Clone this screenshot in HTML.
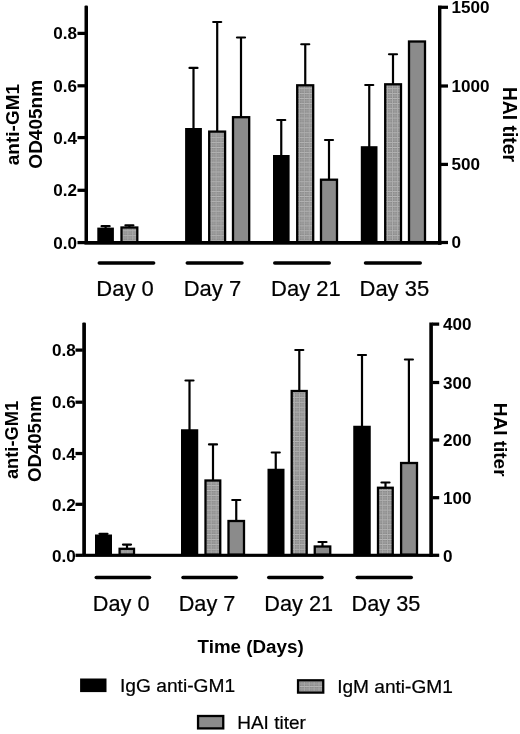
<!DOCTYPE html>
<html lang="en"><head><meta charset="utf-8"><title>anti-GM1 and HAI titer</title>
<style>
html,body{margin:0;padding:0;background:#fff;}
body{width:520px;height:734px;overflow:hidden;}
svg{display:block;filter:blur(0.35px);}
svg text{font-family:"Liberation Sans",Arial,Helvetica,sans-serif;fill:#000;}
</style></head><body>
<svg width="520" height="734" viewBox="0 0 520 734">
<defs>
<pattern id="hatch" width="4.9" height="4.9" patternUnits="userSpaceOnUse">
<rect width="4.9" height="4.9" fill="#888888"/>
<rect y="2.45" width="4.9" height="0.9" fill="#a8a8a8"/>
<rect x="2.45" width="0.9" height="4.9" fill="#a2a2a2"/>
<rect width="4.9" height="0.9" fill="#b8b8b8"/>
<rect width="0.9" height="4.9" fill="#aeaeae"/>
</pattern>
</defs>
<rect width="520" height="734" fill="#fff"/>
<line x1="105.60" y1="226.20" x2="105.60" y2="228.60" stroke="#000" stroke-width="2.2" stroke-linecap="butt"/>
<line x1="101.60" y1="226.20" x2="109.60" y2="226.20" stroke="#000" stroke-width="2.2" stroke-linecap="round"/>
<rect x="97.30" y="227.60" width="16.60" height="15.00" fill="#000" />
<line x1="129.40" y1="225.30" x2="129.40" y2="227.50" stroke="#000" stroke-width="2.2" stroke-linecap="butt"/>
<line x1="125.40" y1="225.30" x2="133.40" y2="225.30" stroke="#000" stroke-width="2.2" stroke-linecap="round"/>
<rect x="121.50" y="227.50" width="15.80" height="14.60" fill="url(#hatch)" stroke="#000" stroke-width="2.3"/>
<line x1="193.50" y1="67.90" x2="193.50" y2="129.00" stroke="#000" stroke-width="2.2" stroke-linecap="butt"/>
<line x1="189.50" y1="67.90" x2="197.50" y2="67.90" stroke="#000" stroke-width="2.2" stroke-linecap="round"/>
<rect x="185.10" y="128.00" width="16.80" height="114.60" fill="#000" />
<line x1="217.20" y1="22.00" x2="217.20" y2="131.60" stroke="#000" stroke-width="2.2" stroke-linecap="butt"/>
<line x1="213.20" y1="22.00" x2="221.20" y2="22.00" stroke="#000" stroke-width="2.2" stroke-linecap="round"/>
<rect x="209.20" y="131.60" width="15.90" height="110.50" fill="url(#hatch)" stroke="#000" stroke-width="2.3"/>
<line x1="241.00" y1="37.50" x2="241.00" y2="117.20" stroke="#000" stroke-width="2.2" stroke-linecap="butt"/>
<line x1="237.00" y1="37.50" x2="245.00" y2="37.50" stroke="#000" stroke-width="2.2" stroke-linecap="round"/>
<rect x="233.00" y="117.20" width="16.20" height="124.90" fill="#8b8b8b" stroke="#000" stroke-width="2.3"/>
<line x1="281.25" y1="120.00" x2="281.25" y2="156.00" stroke="#000" stroke-width="2.2" stroke-linecap="butt"/>
<line x1="277.25" y1="120.00" x2="285.25" y2="120.00" stroke="#000" stroke-width="2.2" stroke-linecap="round"/>
<rect x="273.00" y="155.00" width="16.60" height="87.60" fill="#000" />
<line x1="305.25" y1="44.25" x2="305.25" y2="85.30" stroke="#000" stroke-width="2.2" stroke-linecap="butt"/>
<line x1="301.25" y1="44.25" x2="309.25" y2="44.25" stroke="#000" stroke-width="2.2" stroke-linecap="round"/>
<rect x="297.20" y="85.30" width="16.00" height="156.80" fill="url(#hatch)" stroke="#000" stroke-width="2.3"/>
<line x1="329.00" y1="140.00" x2="329.00" y2="179.70" stroke="#000" stroke-width="2.2" stroke-linecap="butt"/>
<line x1="325.00" y1="140.00" x2="333.00" y2="140.00" stroke="#000" stroke-width="2.2" stroke-linecap="round"/>
<rect x="321.00" y="179.70" width="16.00" height="62.40" fill="#8b8b8b" stroke="#000" stroke-width="2.3"/>
<line x1="369.25" y1="85.00" x2="369.25" y2="147.20" stroke="#000" stroke-width="2.2" stroke-linecap="butt"/>
<line x1="365.25" y1="85.00" x2="373.25" y2="85.00" stroke="#000" stroke-width="2.2" stroke-linecap="round"/>
<rect x="360.80" y="146.20" width="16.70" height="96.40" fill="#000" />
<line x1="393.00" y1="54.25" x2="393.00" y2="84.30" stroke="#000" stroke-width="2.2" stroke-linecap="butt"/>
<line x1="389.00" y1="54.25" x2="397.00" y2="54.25" stroke="#000" stroke-width="2.2" stroke-linecap="round"/>
<rect x="385.20" y="84.30" width="15.80" height="157.80" fill="url(#hatch)" stroke="#000" stroke-width="2.3"/>
<rect x="409.00" y="41.50" width="16.00" height="200.60" fill="#8b8b8b" stroke="#000" stroke-width="2.3"/>
<rect x="84.50" y="5.50" width="3.50" height="238.20" fill="#000" rx="1.1"/>
<rect x="438.00" y="5.50" width="3.40" height="239.20" fill="#000" />
<rect x="84.50" y="241.00" width="356.90" height="3.70" fill="#000" />
<rect x="77.50" y="240.97" width="7.50" height="3.25" fill="#000" />
<text x="77.00" y="248.70" font-size="17.1" font-weight="bold" text-anchor="end">0.0</text>
<rect x="77.50" y="188.68" width="7.50" height="3.25" fill="#000" />
<text x="77.00" y="196.40" font-size="17.1" font-weight="bold" text-anchor="end">0.2</text>
<rect x="77.50" y="135.97" width="7.50" height="3.25" fill="#000" />
<text x="77.00" y="143.70" font-size="17.1" font-weight="bold" text-anchor="end">0.4</text>
<rect x="77.50" y="84.17" width="7.50" height="3.25" fill="#000" />
<text x="77.00" y="91.60" font-size="17.1" font-weight="bold" text-anchor="end">0.6</text>
<rect x="77.50" y="31.77" width="7.50" height="3.25" fill="#000" />
<text x="77.00" y="38.95" font-size="17.1" font-weight="bold" text-anchor="end">0.8</text>
<rect x="440.90" y="5.67" width="7.10" height="3.25" fill="#000" />
<text x="451.60" y="12.85" font-size="17.1" font-weight="bold" text-anchor="start">1500</text>
<rect x="440.90" y="84.38" width="7.10" height="3.25" fill="#000" />
<text x="451.60" y="91.55" font-size="17.1" font-weight="bold" text-anchor="start">1000</text>
<rect x="440.90" y="162.78" width="7.10" height="3.25" fill="#000" />
<text x="451.60" y="169.95" font-size="17.1" font-weight="bold" text-anchor="start">500</text>
<rect x="440.90" y="240.88" width="7.10" height="3.25" fill="#000" />
<text x="451.60" y="248.05" font-size="17.1" font-weight="bold" text-anchor="start">0</text>
<line x1="99.25" y1="263.00" x2="153.65" y2="263.00" stroke="#000" stroke-width="3.5" stroke-linecap="round"/>
<text x="96.30" y="296.00" font-size="22.0" font-weight="normal" text-anchor="start" stroke="#000" stroke-width="0.22">Day 0</text>
<line x1="187.25" y1="263.00" x2="242.00" y2="263.00" stroke="#000" stroke-width="3.5" stroke-linecap="round"/>
<text x="183.70" y="296.00" font-size="22.0" font-weight="normal" text-anchor="start" stroke="#000" stroke-width="0.22">Day 7</text>
<line x1="274.75" y1="263.00" x2="329.25" y2="263.00" stroke="#000" stroke-width="3.5" stroke-linecap="round"/>
<text x="271.10" y="296.00" font-size="22.0" font-weight="normal" text-anchor="start" stroke="#000" stroke-width="0.22">Day 21</text>
<line x1="365.50" y1="263.00" x2="420.25" y2="263.00" stroke="#000" stroke-width="3.5" stroke-linecap="round"/>
<text x="359.50" y="296.00" font-size="22.0" font-weight="normal" text-anchor="start" stroke="#000" stroke-width="0.22">Day 35</text>
<text x="18.80" y="124.60" font-size="19" font-weight="bold" text-anchor="middle" transform="rotate(-90 18.80 124.60)">anti-GM1</text>
<text x="41.90" y="124.30" font-size="19" font-weight="bold" text-anchor="middle" transform="rotate(-90 41.90 124.30)">OD405nm</text>
<text x="503.00" y="124.40" font-size="19.3" font-weight="bold" text-anchor="middle" transform="rotate(90 503.00 124.40)">HAI titer</text>
<line x1="103.50" y1="533.80" x2="103.50" y2="535.50" stroke="#000" stroke-width="2.2" stroke-linecap="butt"/>
<line x1="99.50" y1="533.80" x2="107.50" y2="533.80" stroke="#000" stroke-width="2.2" stroke-linecap="round"/>
<rect x="95.00" y="534.50" width="17.00" height="20.70" fill="#000" />
<line x1="127.00" y1="544.60" x2="127.00" y2="548.80" stroke="#000" stroke-width="2.2" stroke-linecap="butt"/>
<line x1="123.00" y1="544.60" x2="131.00" y2="544.60" stroke="#000" stroke-width="2.2" stroke-linecap="round"/>
<rect x="119.60" y="548.80" width="14.40" height="5.90" fill="url(#hatch)" stroke="#000" stroke-width="2.3"/>
<line x1="189.50" y1="380.50" x2="189.50" y2="430.25" stroke="#000" stroke-width="2.2" stroke-linecap="butt"/>
<line x1="185.50" y1="380.50" x2="193.50" y2="380.50" stroke="#000" stroke-width="2.2" stroke-linecap="round"/>
<rect x="181.00" y="429.25" width="17.25" height="125.95" fill="#000" />
<line x1="213.00" y1="444.40" x2="213.00" y2="480.50" stroke="#000" stroke-width="2.2" stroke-linecap="butt"/>
<line x1="209.00" y1="444.40" x2="217.00" y2="444.40" stroke="#000" stroke-width="2.2" stroke-linecap="round"/>
<rect x="205.50" y="480.50" width="14.75" height="74.20" fill="url(#hatch)" stroke="#000" stroke-width="2.3"/>
<line x1="236.25" y1="500.00" x2="236.25" y2="521.00" stroke="#000" stroke-width="2.2" stroke-linecap="butt"/>
<line x1="232.25" y1="500.00" x2="240.25" y2="500.00" stroke="#000" stroke-width="2.2" stroke-linecap="round"/>
<rect x="228.50" y="521.00" width="15.50" height="33.70" fill="#8b8b8b" stroke="#000" stroke-width="2.3"/>
<line x1="275.75" y1="452.50" x2="275.75" y2="469.75" stroke="#000" stroke-width="2.2" stroke-linecap="butt"/>
<line x1="271.75" y1="452.50" x2="279.75" y2="452.50" stroke="#000" stroke-width="2.2" stroke-linecap="round"/>
<rect x="267.50" y="468.75" width="17.00" height="86.45" fill="#000" />
<line x1="299.30" y1="350.00" x2="299.30" y2="391.00" stroke="#000" stroke-width="2.2" stroke-linecap="butt"/>
<line x1="295.30" y1="350.00" x2="303.30" y2="350.00" stroke="#000" stroke-width="2.2" stroke-linecap="round"/>
<rect x="291.70" y="391.00" width="15.00" height="163.70" fill="url(#hatch)" stroke="#000" stroke-width="2.3"/>
<line x1="322.50" y1="542.00" x2="322.50" y2="546.50" stroke="#000" stroke-width="2.2" stroke-linecap="butt"/>
<line x1="318.50" y1="542.00" x2="326.50" y2="542.00" stroke="#000" stroke-width="2.2" stroke-linecap="round"/>
<rect x="314.75" y="546.50" width="15.50" height="8.20" fill="#8b8b8b" stroke="#000" stroke-width="2.3"/>
<line x1="362.00" y1="355.00" x2="362.00" y2="426.75" stroke="#000" stroke-width="2.2" stroke-linecap="butt"/>
<line x1="358.00" y1="355.00" x2="366.00" y2="355.00" stroke="#000" stroke-width="2.2" stroke-linecap="round"/>
<rect x="353.25" y="425.75" width="17.50" height="129.45" fill="#000" />
<line x1="385.50" y1="482.50" x2="385.50" y2="487.75" stroke="#000" stroke-width="2.2" stroke-linecap="butt"/>
<line x1="381.50" y1="482.50" x2="389.50" y2="482.50" stroke="#000" stroke-width="2.2" stroke-linecap="round"/>
<rect x="378.00" y="487.75" width="14.75" height="66.95" fill="url(#hatch)" stroke="#000" stroke-width="2.3"/>
<line x1="408.90" y1="359.50" x2="408.90" y2="463.00" stroke="#000" stroke-width="2.2" stroke-linecap="butt"/>
<line x1="404.90" y1="359.50" x2="412.90" y2="359.50" stroke="#000" stroke-width="2.2" stroke-linecap="round"/>
<rect x="401.10" y="463.00" width="15.90" height="91.70" fill="#8b8b8b" stroke="#000" stroke-width="2.3"/>
<rect x="82.25" y="322.50" width="3.70" height="233.40" fill="#000" rx="1.1"/>
<rect x="429.30" y="322.50" width="3.60" height="234.40" fill="#000" />
<rect x="82.25" y="553.75" width="350.65" height="3.15" fill="#000" />
<rect x="75.50" y="553.67" width="7.25" height="3.25" fill="#000" />
<text x="75.70" y="561.50" font-size="17.1" font-weight="bold" text-anchor="end">0.0</text>
<rect x="75.50" y="502.68" width="7.25" height="3.25" fill="#000" />
<text x="75.70" y="510.50" font-size="17.1" font-weight="bold" text-anchor="end">0.2</text>
<rect x="75.50" y="451.88" width="7.25" height="3.25" fill="#000" />
<text x="75.70" y="459.70" font-size="17.1" font-weight="bold" text-anchor="end">0.4</text>
<rect x="75.50" y="400.57" width="7.25" height="3.25" fill="#000" />
<text x="75.70" y="408.40" font-size="17.1" font-weight="bold" text-anchor="end">0.6</text>
<rect x="75.50" y="348.48" width="7.25" height="3.25" fill="#000" />
<text x="75.70" y="356.30" font-size="17.1" font-weight="bold" text-anchor="end">0.8</text>
<rect x="432.40" y="322.50" width="6.80" height="3.25" fill="#000" />
<text x="443.00" y="330.30" font-size="17.1" font-weight="bold" text-anchor="start">400</text>
<rect x="432.40" y="380.88" width="6.80" height="3.25" fill="#000" />
<text x="443.00" y="388.70" font-size="17.1" font-weight="bold" text-anchor="start">300</text>
<rect x="432.40" y="438.38" width="6.80" height="3.25" fill="#000" />
<text x="443.00" y="446.20" font-size="17.1" font-weight="bold" text-anchor="start">200</text>
<rect x="432.40" y="496.07" width="6.80" height="3.25" fill="#000" />
<text x="443.00" y="503.90" font-size="17.1" font-weight="bold" text-anchor="start">100</text>
<rect x="432.40" y="553.67" width="6.80" height="3.25" fill="#000" />
<text x="443.00" y="561.50" font-size="17.1" font-weight="bold" text-anchor="start">0</text>
<line x1="96.25" y1="577.60" x2="149.50" y2="577.60" stroke="#000" stroke-width="3.5" stroke-linecap="round"/>
<text x="92.80" y="610.50" font-size="21.7" font-weight="normal" text-anchor="start" stroke="#000" stroke-width="0.22">Day 0</text>
<line x1="183.00" y1="577.60" x2="236.25" y2="577.60" stroke="#000" stroke-width="3.5" stroke-linecap="round"/>
<text x="178.70" y="610.50" font-size="21.7" font-weight="normal" text-anchor="start" stroke="#000" stroke-width="0.22">Day 7</text>
<line x1="268.75" y1="577.60" x2="322.00" y2="577.60" stroke="#000" stroke-width="3.5" stroke-linecap="round"/>
<text x="264.30" y="610.50" font-size="21.7" font-weight="normal" text-anchor="start" stroke="#000" stroke-width="0.22">Day 21</text>
<line x1="357.25" y1="577.60" x2="411.25" y2="577.60" stroke="#000" stroke-width="3.5" stroke-linecap="round"/>
<text x="351.60" y="610.50" font-size="21.7" font-weight="normal" text-anchor="start" stroke="#000" stroke-width="0.22">Day 35</text>
<text x="17.50" y="440.00" font-size="18.3" font-weight="bold" text-anchor="middle" transform="rotate(-90 17.50 440.00)">anti-GM1</text>
<text x="41.00" y="438.60" font-size="18.6" font-weight="bold" text-anchor="middle" transform="rotate(-90 41.00 438.60)">OD405nm</text>
<text x="493.50" y="439.70" font-size="18.95" font-weight="bold" text-anchor="middle" transform="rotate(90 493.50 439.70)">HAI titer</text>
<text x="250.60" y="653.30" font-size="18.8" font-weight="bold" text-anchor="middle">Time (Days)</text>
<rect x="80.10" y="678.50" width="26.40" height="13.60" fill="#000" />
<text x="120.00" y="692.30" font-size="19.2" font-weight="normal" text-anchor="start" stroke="#000" stroke-width="0.22">IgG anti-GM1</text>
<rect x="298.05" y="680.3" width="25.2" height="12.3" fill="url(#hatch)" stroke="#000" stroke-width="2.3"/>
<text x="337.20" y="693.25" font-size="19.1" font-weight="normal" text-anchor="start" stroke="#000" stroke-width="0.22">IgM anti-GM1</text>
<rect x="198.05" y="716.0" width="25.2" height="12.4" fill="#8b8b8b" stroke="#000" stroke-width="2.3"/>
<text x="237.20" y="729.25" font-size="19" font-weight="normal" text-anchor="start" stroke="#000" stroke-width="0.22">HAI titer</text>
</svg>
</body></html>
